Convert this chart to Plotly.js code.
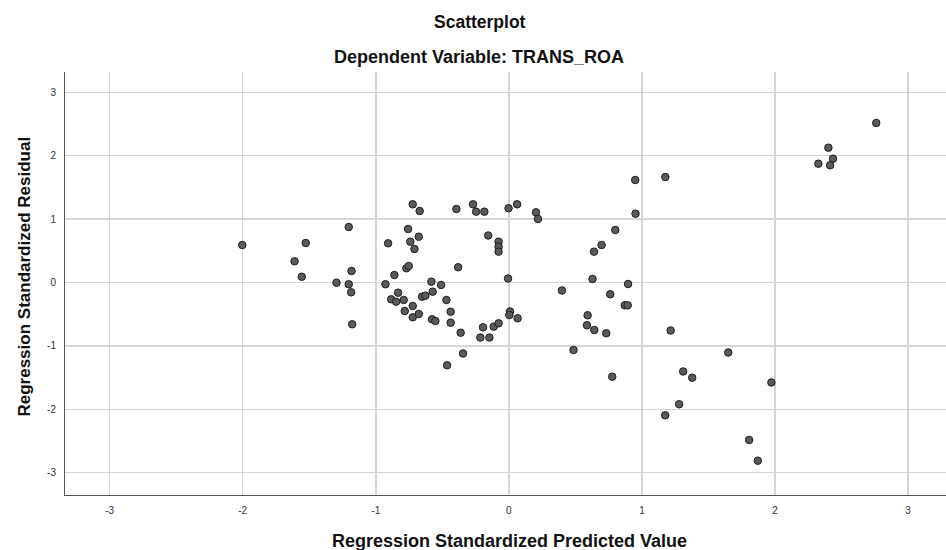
<!DOCTYPE html>
<html>
<head>
<meta charset="utf-8">
<script src="https://cdn.plot.ly/plotly-3.0.1.min.js"></script>
<style>
  html, body { margin: 0; padding: 0; background: #ffffff; }
  #chart { width: 946px; height: 550px; }
</style>
</head>
<body>
<div id="chart"></div>
<script>
// Regression Standardized Predicted Value (x)
const predicted = [
  -2.003, -1.610, -1.526, -1.556, -1.295, -1.203, -1.182, -1.203, -1.185, -1.177,
  -0.927, -0.907, -0.860, -0.832, -0.884, -0.847, -0.790, -0.782, -0.770, -0.752,
  -0.757, -0.740, -0.709, -0.677, -0.722, -0.670, -0.722, -0.722, -0.677, -0.652,
  -0.627, -0.572, -0.582, -0.509, -0.577, -0.552, -0.469, -0.437, -0.437, -0.362,
  -0.394, -0.381, -0.464, -0.344, -0.269, -0.246, -0.184, -0.214, -0.194, -0.146,
  -0.155, -0.114, -0.077, -0.077, -0.077, -0.077, -0.002, 0.062, -0.006, 0.009,
  0.004, 0.066, 0.204, 0.219, 0.399, 0.486, 0.587, 0.592, 0.629, 0.640,
  0.697, 0.642, 0.732, 0.762, 0.777, 0.800, 0.871, 0.893, 0.896, 0.950,
  0.952, 1.176, 1.175, 1.216, 1.280, 1.310, 1.378, 1.649, 1.806, 1.871,
  1.973, 2.326, 2.401, 2.436, 2.414, 2.761
];
// Regression Standardized Residual (y)
const residual = [
  0.591, 0.334, 0.623, 0.091, -0.003, 0.875, 0.181, -0.028, -0.155, -0.659,
  -0.028, 0.618, 0.118, -0.161, -0.265, -0.303, -0.276, -0.450, 0.224, 0.260,
  0.844, 0.644, 0.528, 0.722, 1.233, 1.128, -0.371, -0.549, -0.497, -0.224,
  -0.208, -0.145, 0.013, -0.039, -0.580, -0.607, -0.276, -0.461, -0.634, -0.792,
  1.159, 0.240, -1.306, -1.120, 1.233, 1.117, 1.117, -0.868, -0.707, -0.868,
  0.741, -0.697, -0.644, 0.644, 0.565, 0.486, 1.170, 1.233, 0.063, -0.457,
  -0.513, -0.565, 1.107, 1.002, -0.126, -1.065, -0.675, -0.517, 0.055, 0.486,
  0.591, -0.749, -0.801, -0.186, -1.486, 0.828, -0.360, -0.360, -0.024, 1.617,
  1.085, 1.664, -2.095, -0.757, -1.921, -1.404, -1.502, -1.104, -2.484, -2.811,
  -1.577, 1.874, 2.126, 1.953, 1.849, 2.516
];
const tickVals = [-3, -2, -1, 0, 1, 2, 3];
const tickText = ['-3', '-2', '-1', '0', '1', '2', '3'];

const chartTitle = 'Scatterplot';
const chartSubtitle = 'Dependent Variable: TRANS_ROA';
const xTitle = 'Regression Standardized Predicted Value';
const yTitle = 'Regression Standardized Residual';

const trace = {
  type: 'scatter',
  mode: 'markers',
  x: predicted,
  y: residual,
  marker: {
    size: 7.5,
    color: '#5a5a5a',
    line: { color: '#1e1e1e', width: 1 }
  },
  hoverinfo: 'skip'
};

const titleFont = { family: 'Liberation Sans, Arial, sans-serif', size: 18, color: '#111111', weight: 'bold' };

const layout = {
  width: 946,
  height: 550,
  margin: { l: 65, r: 0, t: 72, b: 55, pad: 0 },
  paper_bgcolor: '#ffffff',
  plot_bgcolor: '#ffffff',
  showlegend: false,
  font: { family: 'Liberation Sans, Arial, sans-serif', color: '#333333' },
  xaxis: {
    range: [-3.335, 3.285],
    tickvals: tickVals,
    ticktext: tickText,
    showgrid: true,
    gridcolor: '#d6d6d6',
    gridwidth: 1.5,
    zeroline: false,
    showline: true,
    linecolor: '#555555',
    linewidth: 1,
    ticks: '',
    ticklabelstandoff: 6,
    tickfont: { size: 10, color: '#333333' }
  },
  yaxis: {
    range: [-3.352, 3.32],
    tickvals: tickVals,
    ticktext: tickText,
    showgrid: true,
    gridcolor: '#d6d6d6',
    gridwidth: 1.5,
    zeroline: false,
    showline: true,
    linecolor: '#555555',
    linewidth: 1,
    ticks: '',
    ticklabelstandoff: 6,
    tickfont: { size: 10, color: '#333333' }
  },
  annotations: [
    { text: chartTitle, xref: 'paper', yref: 'paper', x: 0.471, y: 1.118,
      xanchor: 'center', yanchor: 'middle', showarrow: false,
      font: { family: 'Liberation Sans, Arial, sans-serif', size: 17.5, color: '#111111', weight: 'bold' } },
    { text: chartSubtitle, xref: 'paper', yref: 'paper', x: 0.47, y: 1.0355,
      xanchor: 'center', yanchor: 'middle', showarrow: false, font: titleFont },
    { text: xTitle, xref: 'paper', yref: 'paper', x: 0.5045, y: -0.1087,
      xanchor: 'center', yanchor: 'middle', showarrow: false, font: titleFont },
    { text: yTitle, xref: 'paper', yref: 'paper', x: -0.0454, y: 0.5165,
      xanchor: 'center', yanchor: 'middle', textangle: -90, showarrow: false,
      font: { family: 'Liberation Sans, Arial, sans-serif', size: 17, color: '#111111', weight: 'bold' } }
  ]
};

Plotly.newPlot('chart', [trace], layout, { displayModeBar: false, staticPlot: true });
</script>
</body>
</html>
